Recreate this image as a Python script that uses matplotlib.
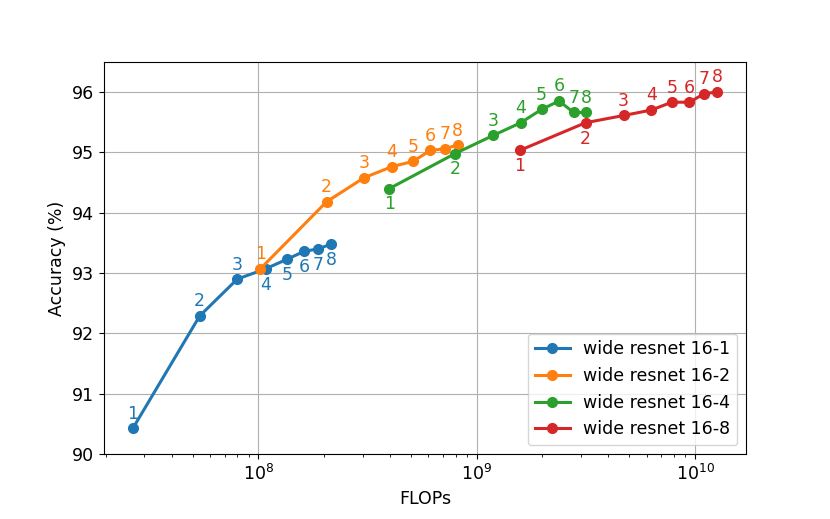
import matplotlib
matplotlib.use("Agg")
import matplotlib.pyplot as plt

plt.rcParams['font.size'] = 12.5

# FLOPs and accuracy for each width, depth 1..8
flops_1 = [2.66e7, 5.38e7, 8.0e7, 1.077e8, 1.355e8, 1.62e8, 1.88e8, 2.15e8]
acc_1 = [90.43, 92.29, 92.90, 93.07, 93.23, 93.36, 93.40, 93.48]
pos_1 = ['a', 'a', 'a', 'b', 'b', 'b', 'b', 'b']

flops_2 = [1.02e8, 2.05e8, 3.05e8, 4.07e8, 5.1e8, 6.13e8, 7.15e8, 8.17e8]
acc_2 = [93.07, 94.18, 94.58, 94.76, 94.85, 95.03, 95.06, 95.12]
pos_2 = ['a'] * 8

flops_4 = [3.98e8, 7.96e8, 1.19e9, 1.59e9, 1.98e9, 2.38e9, 2.78e9, 3.18e9]
acc_4 = [94.40, 94.98, 95.28, 95.49, 95.71, 95.85, 95.66, 95.66]
pos_4 = ['b', 'b', 'a', 'a', 'a', 'a', 'a', 'a']

flops_8 = [1.57e9, 3.15e9, 4.71e9, 6.3e9, 7.83e9, 9.42e9, 1.10e10, 1.26e10]
acc_8 = [95.03, 95.49, 95.61, 95.70, 95.83, 95.83, 95.97, 96.00]
pos_8 = ['b', 'b', 'a', 'a', 'a', 'a', 'a', 'a']

series = [
    ("wide resnet 16-1", flops_1, acc_1, pos_1, "tab:blue"),
    ("wide resnet 16-2", flops_2, acc_2, pos_2, "tab:orange"),
    ("wide resnet 16-4", flops_4, acc_4, pos_4, "tab:green"),
    ("wide resnet 16-8", flops_8, acc_8, pos_8, "tab:red"),
]

fig = plt.figure(figsize=(8.3, 5.19), dpi=100)
ax = fig.add_axes([0.125, 0.125, 0.774, 0.756])

for name, x, y, pos, c in series:
    ax.plot(x, y, '-o', color=c, lw=2.2, ms=7, label=name)
    for i in range(len(x)):
        if pos[i] == 'a':
            ax.annotate(str(i + 1), (x[i], y[i]), xytext=(0, 4), textcoords='offset points',
                        ha='center', va='bottom', color=c, fontsize=12.5)
        else:
            ax.annotate(str(i + 1), (x[i], y[i]), xytext=(0, -5), textcoords='offset points',
                        ha='center', va='top', color=c, fontsize=12.5)

ax.set_xscale('log')
ax.set_ylim(90, 96.5)
ax.set_xlabel("FLOPs")
ax.set_ylabel("Accuracy (%)")
ax.grid(True)
ax.legend(loc='lower right')

fig.savefig("out.png")
